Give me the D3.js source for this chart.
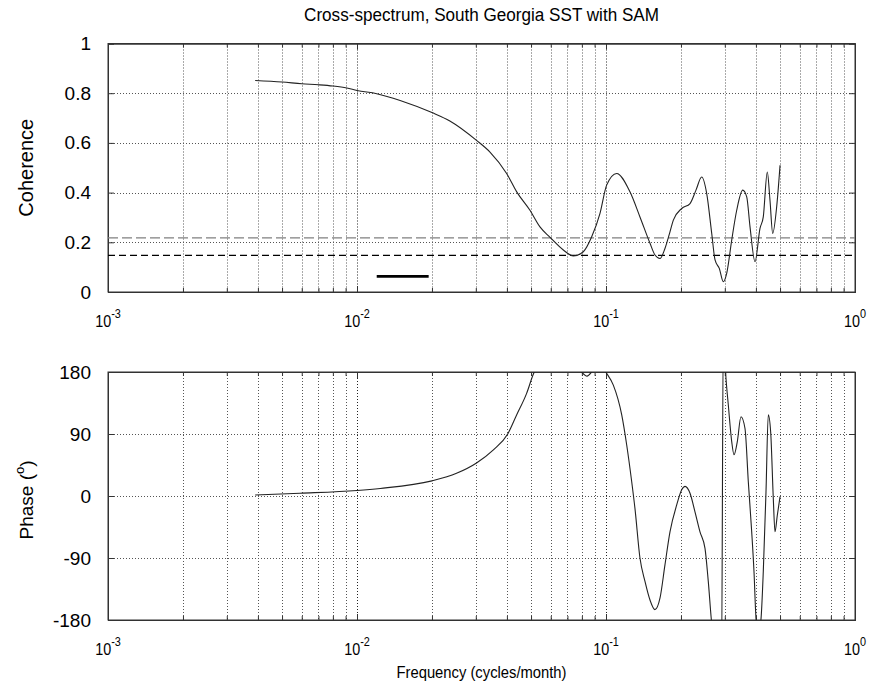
<!DOCTYPE html>
<html><head><meta charset="utf-8">
<script src="https://cdn.jsdelivr.net/npm/d3@7"></script>
<style>
body{margin:0;background:#fff}
text{font-family:"Liberation Sans",Arial,Helvetica,sans-serif;fill:#000}
</style>
</head><body>
<svg id="chart" width="873" height="700"></svg>
<script>
// ---- data ----
const titleText = "Cross-spectrum, South Georgia SST with SAM";
const xLabelText = "Frequency (cycles/month)";
const cohLabelText = "Coherence";
const xTickExponents = [-3, -2, -1, 0];
const cohTicks = [0, 0.2, 0.4, 0.6, 0.8, 1];
const phaseTicks = [-180, -90, 0, 90, 180];

const cohFreq = [0.0039,0.0050,0.0060,0.0070,0.0080,0.0091,0.0100,0.0120,0.0149,0.0200,
  0.0236,0.0302,0.0342,0.0399,0.0438,0.0495,0.0543,0.0596,0.0674,0.0739,
  0.0811,0.0876,0.0946,0.1006,0.1104,0.1248,0.1369,0.1502,0.1573,0.1648,
  0.1725,0.1807,0.1864,0.2014,0.2175,0.2298,0.2423,0.2538,0.2658,0.2741,
  0.2851,0.2959,0.3053,0.3198,0.3349,0.3540,0.3674,0.3788,0.3967,0.4154,
  0.4282,0.4444,0.4556,0.4672,0.4847,0.5000];
const cohValue = [0.851,0.845,0.838,0.834,0.829,0.821,0.811,0.798,0.771,0.722,
  0.688,0.610,0.563,0.477,0.403,0.329,0.262,0.220,0.169,0.145,
  0.162,0.222,0.316,0.430,0.477,0.403,0.302,0.196,0.149,0.135,
  0.175,0.242,0.289,0.336,0.356,0.410,0.463,0.396,0.236,0.129,
  0.095,0.041,0.075,0.209,0.329,0.410,0.383,0.262,0.122,0.256,
  0.302,0.483,0.369,0.236,0.343,0.510];

const phaseFreq = [0.0039,0.0059,0.0100,0.0124,0.0200,0.0251,0.0302,0.0353,0.0403,0.0438,
  0.0480,0.0511,0.0543,0.0624,0.0704,0.0786,0.0839,0.0887,0.0946,0.1006,
  0.1070,0.1156,0.1211,0.1268,0.1307,0.1369,0.1434,0.1502,0.1573,0.1648,
  0.1725,0.1807,0.1923,0.2014,0.2077,0.2175,0.2277,0.2385,0.2498,0.2575,
  0.2658,0.2766,0.2870,0.2910,0.2959,0.3033,0.3099,0.3198,0.3267,0.3368,
  0.3484,0.3616,0.3728,0.3847,0.3930,0.4003,0.4097,0.4194,0.4282,0.4391,
  0.4485,0.4585,0.4697,0.4771,0.4875,0.5000];
const phaseValue = [1.5,4,8,11,22,33,48,67,90,118,
  149,177,195,205,195,182,174,182,190,178,
  161,118,74,21,-18,-90,-124,-151,-165,-148,
  -100,-52,-13,9,14,4,-23,-52,-76,-124,
  -185,-220,-240,-250,240,171,132,79,60,79,
  115,98,21,-52,-110,-177,-200,-178,-110,6,
  118,93,-3,-52,-28,-1];

const sigLevels = [0.218, 0.147];          // grey (upper) and black (lower) dashed levels
const bandwidthFreq = [0.0120, 0.0194];    // bandwidth bar
const bandwidthLevel = 0.063;

// ---- layout ----
const svg = d3.select("#chart");
const L = 108, R = 855;
const top1 = 43.5, bot1 = 292;
const top2 = 372, bot2 = 620;

const x = d3.scaleLog().domain([1e-3, 1]).range([L, R]);
const yC = d3.scaleLinear().domain([0, 1]).range([bot1, top1]);
const yP = d3.scaleLinear().domain([-180, 180]).range([bot2, top2]);

const majors = xTickExponents.map(e => Math.pow(10, e));
const minors = [];
for (let e = -3; e < 0; e++) for (let m = 2; m <= 9; m++) minors.push(m * Math.pow(10, e));

function panel(y, yTicks, yTop, yBot, id) {
  const g = svg.append("g");
  // grid
  const gridX = minors.concat(majors.slice(1, -1));
  g.selectAll(null).data(gridX).enter().append("line")
    .attr("x1", d => Math.round(x(d)) + 0.5).attr("x2", d => Math.round(x(d)) + 0.5)
    .attr("y1", yTop).attr("y2", yBot)
    .attr("stroke", d => majors.includes(d) ? "#222" : "#555")
    .attr("stroke-width", 1).attr("stroke-dasharray", "1,2");
  g.selectAll(null).data(yTicks.slice(1, -1)).enter().append("line")
    .attr("x1", L).attr("x2", R)
    .attr("y1", d => Math.round(y(d)) + 0.5).attr("y2", d => Math.round(y(d)) + 0.5)
    .attr("stroke", "#555").attr("stroke-width", 1).attr("stroke-dasharray", "1,2");

  // axes with inside ticks
  g.append("g").attr("transform", `translate(0,${yBot})`)
    .call(d3.axisBottom(x).tickValues(majors).tickSize(-6).tickFormat(""));
  g.append("g").attr("transform", `translate(0,${yBot})`)
    .call(d3.axisBottom(x).tickValues(minors).tickSize(-4).tickFormat(""));
  g.append("g").attr("transform", `translate(0,${yTop})`)
    .call(d3.axisTop(x).tickValues(majors).tickSize(-6).tickFormat(""));
  g.append("g").attr("transform", `translate(0,${yTop})`)
    .call(d3.axisTop(x).tickValues(minors).tickSize(-4).tickFormat(""));
  g.append("g").attr("transform", `translate(${L},0)`)
    .call(d3.axisLeft(y).tickValues(yTicks).tickSize(-6).tickPadding(17).tickFormat(d => String(d)));
  g.append("g").attr("transform", `translate(${R},0)`)
    .call(d3.axisRight(y).tickValues(yTicks).tickSize(-6).tickFormat(""));
  g.selectAll(".domain").attr("stroke", "#333");
  g.selectAll(".tick line").attr("stroke", "#333");
  g.selectAll(".tick text").attr("font-size", 19).attr("font-family", '"Liberation Sans",Arial,sans-serif');

  // x tick labels 10^n (slightly condensed as in the reference)
  xTickExponents.forEach(e => {
    const t = g.append("text")
      .attr("transform", `translate(${x(Math.pow(10, e))},${yBot + 35}) scale(0.87,1)`)
      .attr("text-anchor", "middle").attr("font-size", 16.5);
    t.append("tspan").text("10");
    t.append("tspan").attr("font-size", 12.5).attr("dy", -9).text(String(e));
  });
  // box
  g.append("rect").attr("x", L).attr("y", yTop).attr("width", R - L).attr("height", yBot - yTop)
    .attr("fill", "none").attr("stroke", "#333").attr("stroke-width", 1);

  svg.append("clipPath").attr("id", id).append("rect")
    .attr("x", L).attr("y", yTop).attr("width", R - L).attr("height", yBot - yTop);
  return g;
}

const g1 = panel(yC, cohTicks, top1, bot1, "clip1");
const g2 = panel(yP, phaseTicks, top2, bot2, "clip2");

// significance levels
g1.append("line").attr("x1", L).attr("x2", R).attr("y1", yC(sigLevels[0])).attr("y2", yC(sigLevels[0]))
  .attr("stroke", "#808080").attr("stroke-width", 1.2).attr("stroke-dasharray", "10,4");
g1.append("line").attr("x1", L).attr("x2", R).attr("y1", yC(sigLevels[1])).attr("y2", yC(sigLevels[1]))
  .attr("stroke", "#000").attr("stroke-width", 1.2).attr("stroke-dasharray", "7,4");
// bandwidth bar
g1.append("line").attr("x1", x(bandwidthFreq[0])).attr("x2", x(bandwidthFreq[1]))
  .attr("y1", yC(bandwidthLevel)).attr("y2", yC(bandwidthLevel))
  .attr("stroke", "#000").attr("stroke-width", 2.6);

// coherence curve
const cohData = cohFreq.map((f, i) => [f, cohValue[i]]);
g1.append("path").datum(cohData)
  .attr("clip-path", "url(#clip1)")
  .attr("d", d3.line().x(d => x(d[0])).y(d => yC(d[1])).curve(d3.curveMonotoneX))
  .attr("fill", "none").attr("stroke", "#222").attr("stroke-width", 1.1);

// phase curve
const phData = phaseFreq.map((f, i) => [f, phaseValue[i]]);
g2.append("path").datum(phData)
  .attr("clip-path", "url(#clip2)")
  .attr("d", d3.line().x(d => x(d[0])).y(d => yP(d[1])).curve(d3.curveMonotoneX))
  .attr("fill", "none").attr("stroke", "#222").attr("stroke-width", 1.1);

// titles and labels
svg.append("text").attr("transform", `translate(${(L + R) / 2},21) scale(0.9,1)`)
  .attr("text-anchor", "middle").attr("font-size", 19).text(titleText);
svg.append("text").attr("transform", `translate(${(L + R) / 2},678) scale(0.87,1)`)
  .attr("text-anchor", "middle").attr("font-size", 17).text(xLabelText);
svg.append("text").attr("transform", `translate(33,${(top1 + bot1) / 2}) rotate(-90)`)
  .attr("text-anchor", "middle").attr("font-size", 20).text(cohLabelText);
const pl = svg.append("text").attr("transform", `translate(33,${(top2 + bot2) / 2 + 4}) rotate(-90)`)
  .attr("text-anchor", "middle").attr("font-size", 19);
pl.append("tspan").text("Phase (");
pl.append("tspan").attr("font-size", 13).attr("dy", -9).text("o");
pl.append("tspan").attr("dy", 9).text(")");
</script>
</body></html>
